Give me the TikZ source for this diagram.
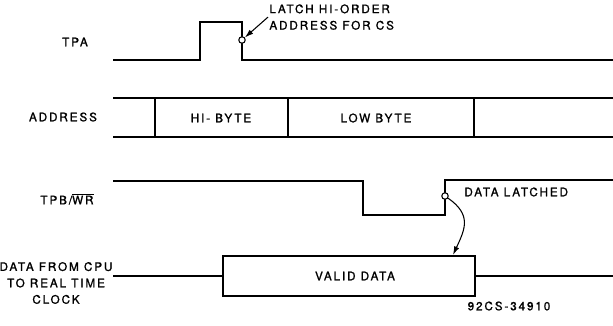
\documentclass[tikz,border=0pt]{standalone}
\usepackage{fontspec}
\newfontfamily\lettering[LetterSpace=16,FakeBold=1.2]{TeX Gyre Heros}
\usetikzlibrary{arrows.meta,positioning}
\tikzset{
  wave/.style={line width=1.6pt, line join=miter},
  lbl/.style={font=\lettering\fontsize{10}{14}\selectfont, inner sep=1pt},
  probe/.style={circle, draw, line width=0.9pt, inner sep=0pt, minimum size=5.5pt, fill=white},
  callarr/.style={-{Latex[length=2.6mm,width=1.6mm]}, line width=0.9pt},
  databox/.style={draw, line width=1.6pt, minimum width=7.56cm, minimum height=1.2cm, inner sep=0pt},
}
\begin{document}
\begin{tikzpicture}[x=0.03cm, y=-0.03cm]
  \useasboundingbox (0,0) rectangle (613,325);
  % TPA
  \node[lbl] (tpa) at (75,42) {TPA};
  \draw[wave] (113,60) -- (200,60) -- (200,22) -- (242,22) -- (242,60) -- (613,60);
  \node[probe] (tpaedge) at (242,40) {};
  \node[lbl, anchor=north west, align=left] (latch) at (268,3) {LATCH HI-ORDER\\ADDRESS FOR CS};
  \draw[callarr] (latch.west) -- (tpaedge);
  % address bus
  \node[lbl] (addr) at (63,117) {ADDRESS};
  \draw[wave] (113,98) -- (613,98) (113,137) -- (613,137);
  \draw[wave] (155,98) -- (155,137) (288,98) -- (288,137) (474,98) -- (474,137);
  \node[lbl] (hibyte) at (221,118) {HI- BYTE};
  \node[lbl] (lowbyte) at (376,118) {LOW BYTE};
  % TPB / WR
  \node[lbl] (tpb) at (67,199) {TPB/$\overline{\hbox{WR}}$};
  \draw[wave] (113,181) -- (363,181) -- (363,215) -- (445,215) -- (445,180) -- (613,180);
  \node[probe] (tpbedge) at (445,196) {};
  \node[lbl, anchor=west] (latched) at (463,192) {DATA LATCHED};
  % data
  \node[lbl, align=center] (datasrc) at (56,283) {DATA FROM CPU\\TO REAL TIME\\CLOCK};
  \node[databox, lbl] (valid) at (349,276) {\hspace*{0.36cm}VALID DATA};
  \draw[wave] (113,276) -- (valid.west);
  \draw[wave] (valid.east) -- (613,276);
  \draw[callarr] (tpbedge) to[out=-35, in=65, looseness=1.3] ([xshift=-0.69cm]valid.north east);
  \node[lbl] (fignum) at (509,306) {92CS-34910};
\end{tikzpicture}
\end{document}
